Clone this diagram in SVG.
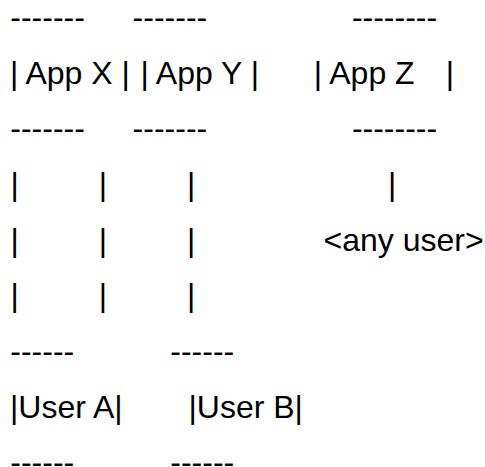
<svg xmlns="http://www.w3.org/2000/svg" width="485" height="467" viewBox="0 0 485 467">
<style>
text { font-family: "Liberation Sans", Arial, sans-serif; font-size: 32px; fill: #000; white-space: pre; }
</style>
<rect width="485" height="467" fill="#fff"/>
<g id="app-x">
<text x="10.3" y="27.7">-------</text>
<text x="10" y="83.5">| App X |</text>
<text x="10.3" y="138.7">-------</text>
</g>
<g id="app-y">
<text x="132.6" y="27.7">-------</text>
<text x="140.4" y="83.5">| App Y |</text>
<text x="132.6" y="138.7">-------</text>
</g>
<g id="app-z">
<text x="351.9" y="27.7">--------</text>
<text x="313.8" y="83.5">| App Z</text>
<text x="445.8" y="83.5">|</text>
<text x="351.9" y="138.7">--------</text>
</g>
<g id="connectors">
<text x="10.5" y="195.3">|</text>
<text x="98.8" y="195.3">|</text>
<text x="187.1" y="195.3">|</text>
<text x="388.1" y="195.3">|</text>
<text x="10.5" y="250.8">|</text>
<text x="98.8" y="250.8">|</text>
<text x="187.1" y="250.8">|</text>
<text x="10.5" y="306.3">|</text>
<text x="98.8" y="306.3">|</text>
<text x="187.1" y="306.3">|</text>
</g>
<g id="any-user">
<text x="323.5" y="250.8">&lt;any user&gt;</text>
</g>
<g id="user-a">
<text x="10.3" y="362">------</text>
<text x="10" y="418">|User A|</text>
<text x="10.3" y="472.8">------</text>
</g>
<g id="user-b">
<text x="170.3" y="362">------</text>
<text x="188.5" y="418">|User B|</text>
<text x="170.3" y="472.8">------</text>
</g>
</svg>
